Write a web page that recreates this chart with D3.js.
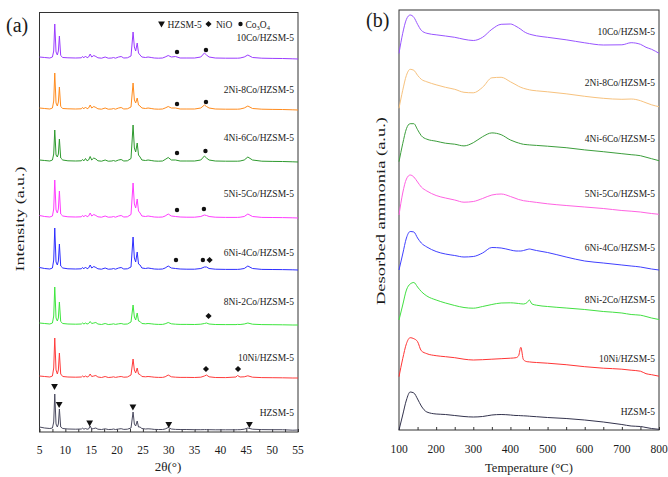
<!DOCTYPE html>
<html><head><meta charset="utf-8">
<script src="https://cdn.jsdelivr.net/npm/d3@7"></script>
<style>
body{margin:0;background:#fff}
svg{display:block}
text{font-family:"Liberation Serif","Times New Roman","DejaVu Serif",serif;fill:#1a1a1a}
</style>
</head><body><svg id="c" width="668" height="477"></svg>
<script>
// ---------- DATA ----------
const sampleNames = ["HZSM-5","10Ni/HZSM-5","8Ni-2Co/HZSM-5","6Ni-4Co/HZSM-5","5Ni-5Co/HZSM-5","4Ni-6Co/HZSM-5","2Ni-8Co/HZSM-5","10Co/HZSM-5"];
const xrdColors = ["#4b4b60","#ff3c3c","#3ee63e","#2e2eff","#ff3cff","#2e9a2e","#ff8c1e","#9b3cff"];
const tpdColors = ["#33334d","#ff3535","#42e042","#4040ff","#ff62e2","#3c9e3c","#f7c27e","#9955ff"];

// XRD (panel a)
const twoTheta = [5,6,7,7.5,7.75,7.95,8.2,8.45,8.65,8.85,9.1,9.5,10.5,12,13.1,13.3,13.6,13.9,14.2,14.5,14.8,15.1,15.5,15.9,16.3,17,17.7,18.3,19.0,19.3,19.7,20.3,20.8,21.3,22.0,22.7,23.1,23.35,23.6,23.9,24.15,24.45,24.8,25.5,26.0,26.6,27.2,28.0,28.8,29.3,29.9,30.5,31.3,32.2,33.5,35,36.2,36.9,37.3,37.8,39,41,43,43.3,43.8,44.6,45.3,46.2,48,50,52,54,55];
const xrdHZSM5 = [3,2,1.5,2,8,36,6,3,6,21, 3,1.5,1,0.8,1,1.8,0.8,1.5,0.8,1, 4,1,1.5,2,0.8,0.5,1.2,0.5,0.6,1, 0.5,1,1.3,0.6,0.8,2,18,6,4,9, 3,3,1.5,1,1.2,1,0.6,0.5,0.5,1, 2.5,1,0.6,0.5,0.5,0.3,0.3,0.4,0.4,0.3, 0.2,0.2,0.2,0.3,0.3,0.8,2,0.8,0.4,0.3, 0.3,-0.2,0];
const xrd10Ni = [2,1.5,1,2,10,40,8,4,8,25, 4,1.5,1,0.8,1,2,1,2,1,1.5, 4,1.5,2,2.5,1,0.5,1.5,0.5,0.8,1.2, 0.6,1.2,1.5,0.8,1,3,19,8,5,10, 4,3.5,1.5,1.2,1.5,1.2,0.8,0.6,0.6,1.2, 3,1.2,0.8,0.6,0.6,0.5,0.8,2,3,1.2, 0.5,0.4,1,2.5,1,1.2,2.2,0.8,0.4,0.3, 0.2,0,0];
const xrd8Ni2Co = [2,1.5,1,2,9,38,7,4,7,23, 3.5,1.5,1,0.8,1,2,1,2,1,1.5, 3.5,1.5,2,2.5,1,0.5,1.5,0.5,0.8,1.2, 0.6,1.2,1.5,0.8,1,3,20,8,5,12, 4,3.5,1.5,1.2,1.5,1.2,0.8,0.6,0.6,1.2, 2.5,1.2,0.8,0.6,0.6,0.5,0.8,1.5,2,1, 0.5,0.4,0.4,0.6,0.5,1,2,0.8,0.4,0.3, 0.2,0,0];
const xrd6Ni4Co = [2.5,1.5,1,2,10,42,8,5,9,26, 4,2,1.2,1,1.2,2.5,1.2,3,1.2,2, 5,2,3.5,2.5,1.2,0.8,2,0.8,1,1.5, 0.8,2,2.5,1,1.2,3,33,12,8,18, 6,5,2,1.5,2,1.5,1,0.8,1,2, 4,2,1.5,1,0.8,0.8,1.5,3,3,1.5, 0.8,0.6,0.6,0.6,0.8,1.5,4,1.5,0.6,0.5, 0.4,0.2,0];
const xrd5Ni5Co = [2.5,1.5,1,2,9,38,8,5,9,27, 4,2,1.2,1,1.2,2.5,1.2,3,1.2,2, 5,2,3.5,2.5,1.2,0.8,2,0.8,1,1.5, 0.8,2,2.5,1,1.2,3.5,35,14,10,19, 7,5,2,1.5,2,1.5,1,0.8,1,2, 4,2,1.5,1,0.8,0.8,1.5,3,2.5,1.5, 0.8,0.6,0.6,0.6,0.8,1.5,4,1.5,0.6,0.5, 0.4,0.2,0];
const xrd4Ni6Co = [2,1.5,1,2,8,32,7,5,8,23, 4,2,1.2,1,1.2,2.5,1.2,3.5,1.2,2, 5.5,2,4,3,1.2,0.8,2,0.8,1,1.5, 0.8,2,2.5,1,1.2,3.5,37,14,10,19, 7,5,2,1.5,2,1.5,1,0.8,1,2.5, 4.5,2,2,1,1,1,2,6,4,2, 1,0.8,0.8,0.8,1,2,5,2,0.8,0.6, 0.5,0.2,0];
const xrd2Ni8Co = [2,1.5,1,2,9,37,7,4,8,23, 3.5,1.5,1.2,1,1.2,2.5,1.2,3,1.2,2, 5,2,3.5,2.5,1.2,0.8,2,0.8,1,1.5, 0.8,2,2.5,1,1.2,3,27,10,7,12, 5,4,2,1.5,2,1.5,1,0.8,1,2, 3.5,2,2,1,1,1,2,5,3.5,2, 1,0.8,0.8,0.8,1,2,4,1.5,0.8,0.6, 0.5,0.2,0];
const xrd10Co = [2,1.5,1,2,8,35,7,4,8,23, 3.5,1.5,1.2,1,1.2,2.5,1.2,3,1.2,2, 5,2,3.5,2.5,1.2,0.8,2,0.8,1,1.5, 0.8,2,2.5,1,1.2,3,27,12,8,16, 6,4,2,1.5,2,1.5,1,0.8,1,2, 3.5,2,2.5,1,1,1,2,6,4,2, 1,0.8,0.8,0.8,1,2,4,1.5,0.8,0.6, 0.5,0.2,0];
const xrdOffsets = [2,54,107,162,214,270,322,373];
const xrdLabelY = [19,74,130,179,238,294,342,394];
const xrdTicks = [5,10,15,20,25,30,35,40,45,50,55];
// reflection markers: [2theta, stacked intensity]
const markHZSM5 = [[7.9,46],[8.8,28],[14.7,9.5],[23.07,25.5],[30,8],[45.6,8]];
const markNiO = [[37.9,172],[37.7,116],[37.2,63],[43.4,63]];
const markCo3O4 = [[31.6,380],[37.2,382],[31.6,328],[37.2,330],[31.6,279],[37.1,281],[31.6,222],[36.8,223],[31.4,172],[36.6,172]];

// NH3-TPD (panel b)
const temperature = [100,110,120,130,140,150,160,175,200,225,250,275,300,325,350,375,400,415,422,428,435,445,451,458,470,500,550,600,650,700,725,750,765,780,800];
const tpdHZSM5 = [0,15,30,38,37,31,24,18,16,15.5, 14.5,13.5,13,13.5,15,15.5,15,14.5,14.5,14.3, 14.2,14,13.8,13.6,13.3,12.5,11.5,10,8,5.5, 4,3.5,2.5,1.5,0.7];
const tpd10Ni = [0,18,33,39,38,35,26,23,21,20, 19,17.5,16.7,17,17.5,18,18.5,19,21,29.4, 17,15,14.8,14.5,14.2,13.5,12,10,8.5,7.5, 6.5,5.5,3,2,0.5];
const tpd8Ni2Co = [0,15,30,36,37.5,33,28.5,24,20,17, 14.5,12.5,11.8,13.5,15.5,17,17.2,16.8,16.5,16.2, 16,17.5,20,16,14.8,13.5,12,10.5,8.5,7, 5.5,4.8,3.5,2,0.5];
const tpd6Ni4Co = [0,16,32,38.5,38,32,27,23,18.5,16, 14.5,13,13.5,17,22.5,22,20,19,19,19, 19.5,20.5,21,20.5,19.5,17.5,13,9,7,5, 4,3,2,1,0];
const tpd5Ni5Co = [0,22,36,40,38,33,28,24,19.5,17, 15,12.8,13.5,16.5,20,21,18.5,16.5,15.5,15, 14.3,13.8,13.5,13.2,12.6,11.2,9.5,8,6.5,4.5, 3.8,3,2.2,1.5,0.7];
const tpd4Ni6Co = [0,18,33,38,38,32,26,22.5,20.5,18.5, 17.5,15.8,19,25,28.8,27,21.7,19.5,18.7,18, 17.4,17,16.8,16.6,16.3,15.5,14,11.8,10,8, 7,6,4.5,3,1];
const tpd2Ni8Co = [0,18,33,39,38,33,29,26.5,23.5,21, 19,16,15.5,21,30.5,31,26.5,23.5,22,21, 20,19,18.5,18,17.5,16.5,14.5,12,10,9, 9.3,7.6,5.5,3.5,1.6];
const tpd10Co = [0,20,34,38.3,36,29,23,20,18.5,17.3, 16,14,12.8,16,24,29,29.3,27,25.5,24, 22,20,19.2,18.5,17.5,16,13.5,10.5,8.3,8.5, 10.6,9,6,4,0];
const tpdOffsets = [0,53.3,110,160,215,268.3,321.7,376.7];
const tpdLabelY = [18.3,71.7,130.7,182.3,236.7,291.7,347.7,398.3];
const tpdTicks = [100,200,300,400,500,600,700,800];

const xrdSeries = [xrdHZSM5,xrd10Ni,xrd8Ni2Co,xrd6Ni4Co,xrd5Ni5Co,xrd4Ni6Co,xrd2Ni8Co,xrd10Co];
const tpdSeries = [tpdHZSM5,tpd10Ni,tpd8Ni2Co,tpd6Ni4Co,tpd5Ni5Co,tpd4Ni6Co,tpd2Ni8Co,tpd10Co];

// ---------- DRAW ----------
const svg = d3.select("#c");
const FRAME = "#333";

function panel(opts){
  const {x0,x1,y0,y1,xdom,ydom,xt,minorStep,tickLabelDy} = opts;
  const x = d3.scaleLinear().domain(xdom).range([x0,x1]);
  const y = d3.scaleLinear().domain(ydom).range([y1,y0]);
  const g = svg.append("g");
  const minor = d3.range(xdom[0], xdom[1]+1e-9, minorStep);
  const ax = d3.axisBottom(x).tickValues(minor).tickSizeInner(-3).tickSizeOuter(0).tickFormat(()=> "");
  const ag = g.append("g").attr("transform",`translate(0,${y1})`).call(ax);
  ag.select(".domain").remove();
  ag.selectAll("line").attr("stroke",FRAME);
  g.selectAll("text.tl").data(xt).join("text").attr("class","tl")
    .attr("x",d=>x(d)).attr("y",y1+tickLabelDy).attr("text-anchor","middle")
    .style("font-size","11.5px").text(d=>d);
  g.append("rect").attr("x",x0).attr("y",y0).attr("width",x1-x0).attr("height",y1-y0)
    .attr("fill","none").attr("stroke",FRAME).attr("stroke-width",1);
  return {x,y,g};
}

// Panel (a)
const A = panel({x0:39.5,x1:298,y0:12.5,y1:432,xdom:[5,55],ydom:[0,419.5],xt:xrdTicks,minorStep:2.5,tickLabelDy:22});
const lineA = d3.line().x(d=>A.x(d[0])).y(d=>A.y(d[1])).curve(d3.curveLinear);
xrdSeries.forEach((s,i)=>{
  const pts = twoTheta.map((t,k)=>[t, xrdOffsets[i]+s[k]]);
  A.g.append("path").attr("d",lineA(pts)).attr("fill","none")
    .attr("stroke",xrdColors[i]).attr("stroke-width",1).attr("stroke-linejoin","round");
});
A.g.selectAll("text.sl").data(sampleNames).join("text").attr("class","sl")
  .attr("x",294).attr("y",(d,i)=>A.y(xrdLabelY[i])).attr("dy","0.35em")
  .attr("text-anchor","end").style("font-size","9.5px").text(d=>d);

const triPath = d3.symbol(d3.symbolTriangle).size(20)();
const diaPath = d3.symbol(d3.symbolSquare).size(19)();
A.g.selectAll("path.tri").data(markHZSM5).join("path").attr("class","tri").attr("d",triPath)
  .attr("transform",d=>`translate(${A.x(d[0])},${A.y(d[1])}) rotate(180)`).attr("fill","#111");
A.g.selectAll("path.dia").data(markNiO).join("path").attr("class","dia").attr("d",diaPath)
  .attr("transform",d=>`translate(${A.x(d[0])},${A.y(d[1])}) rotate(45)`).attr("fill","#111");
A.g.selectAll("circle.co").data(markCo3O4).join("circle").attr("class","co")
  .attr("cx",d=>A.x(d[0])).attr("cy",d=>A.y(d[1])).attr("r",2.2).attr("fill","#111");

// legend (a)
const lg = svg.append("g");
lg.append("path").attr("d",triPath).attr("transform","translate(161.5,23.5) rotate(180)").attr("fill","#111");
lg.append("text").attr("x",167.5).attr("y",27.5).style("font-size","9.5px").text("HZSM-5");
lg.append("path").attr("d",diaPath).attr("transform","translate(208.5,24) rotate(45)").attr("fill","#111");
lg.append("text").attr("x",216).attr("y",27.5).style("font-size","9.5px").text("NiO");
lg.append("circle").attr("cx",240.5).attr("cy",24).attr("r",2.2).attr("fill","#111");
const coT = lg.append("text").attr("x",245.5).attr("y",27.5).style("font-size","9.5px");
coT.append("tspan").text("Co");
coT.append("tspan").attr("dy",2).style("font-size","6.5px").text("3");
coT.append("tspan").attr("dy",-2).text("O");
coT.append("tspan").attr("dy",2).style("font-size","6.5px").text("4");

// axis titles (a)
svg.append("text").attr("x",168).attr("y",471).attr("text-anchor","middle").style("font-size","13px").text("2θ(°)");
svg.append("text").attr("transform","translate(24,219) rotate(-90)").attr("text-anchor","middle")
  .attr("textLength",105).attr("lengthAdjust","spacingAndGlyphs").style("font-size","13px").text("Intensity (a.u.)");
svg.append("text").attr("x",6).attr("y",32).style("font-size","20px").text("(a)");

// Panel (b)
const B = panel({x0:399,x1:659,y0:10,y1:430,xdom:[100,800],ydom:[0,420],xt:tpdTicks,minorStep:50,tickLabelDy:22.5});
const lineB = d3.line().x(d=>B.x(d[0])).y(d=>B.y(d[1])).curve(d3.curveMonotoneX);
tpdSeries.forEach((s,i)=>{
  const pts = temperature.map((t,k)=>[t, tpdOffsets[i]+s[k]]);
  B.g.append("path").attr("d",lineB(pts)).attr("fill","none")
    .attr("stroke",tpdColors[i]).attr("stroke-width",1);
});
B.g.selectAll("text.sl").data(sampleNames).join("text").attr("class","sl")
  .attr("x",655).attr("y",(d,i)=>B.y(tpdLabelY[i])).attr("dy","0.35em")
  .attr("text-anchor","end").style("font-size","9.5px").text(d=>d);

svg.append("text").attr("x",529).attr("y",472).attr("text-anchor","middle").style("font-size","12.5px").text("Temperature (°C)");
svg.append("text").attr("transform","translate(385,211) rotate(-90)").attr("text-anchor","middle")
  .attr("textLength",188).attr("lengthAdjust","spacingAndGlyphs").style("font-size","13px").text("Desorbed ammonia (a.u.)");
svg.append("text").attr("x",366).attr("y",27).style("font-size","20px").text("(b)");
</script>
</body></html>
